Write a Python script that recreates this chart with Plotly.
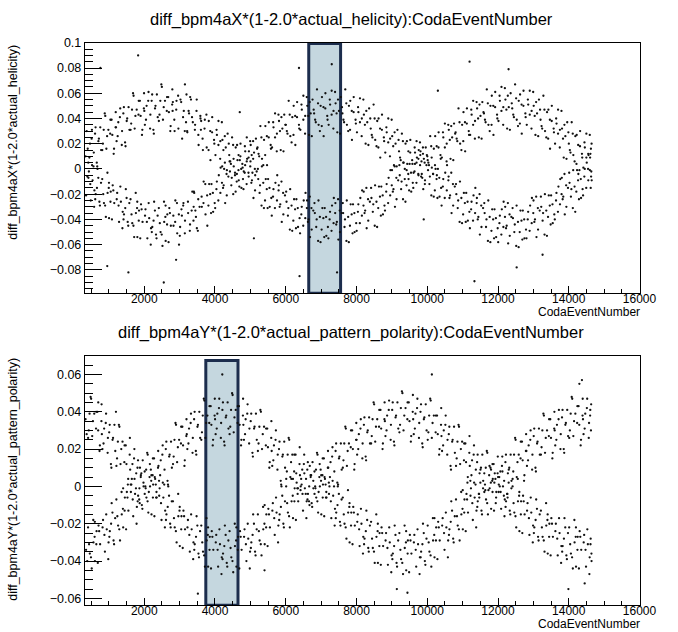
import plotly.graph_objects as go

# ---------------- data (CodaEventNumber, value) ----------------
top_upper = [
(418,0.005),(466,0.020),(521,0.031),(573,0.013),(609,0.028),(658,0.005),(704,0.022),(757,0.033),
(831,0.020),(883,0.044),(929,0.016),(986,0.031),(1044,0.039),(1097,0.027),(1146,0.016),(1194,0.045),
(1218,0.022),(1266,0.037),(1321,0.048),(1373,0.030),(1409,0.044),(1458,0.021),(1504,0.038),(1557,0.049),
(1631,0.036),(1683,0.060),(1729,0.032),(1786,0.047),(1844,0.054),(1897,0.042),(1946,0.031),(1994,0.060),
(2018,0.035),(2066,0.050),(2121,0.061),(2173,0.043),(2209,0.054),(2258,0.031),(2304,0.048),(2357,0.059),
(2431,0.043),(2483,0.067),(2529,0.039),(2586,0.054),(2644,0.057),(2697,0.045),(2746,0.034),(2794,0.063),
(2809,0.053),(2858,0.030),(2904,0.047),(2957,0.058),(3044,0.053),(3097,0.041),(3146,0.030),(3194,0.059),
(3218,0.029),(3266,0.044),(3321,0.055),(3373,0.037),(3431,0.031),(3483,0.055),(3529,0.027),(3586,0.042),
(3609,0.038),(3658,0.015),(3704,0.032),(3757,0.043),(3818,0.015),(3866,0.030),(3921,0.041),(3973,0.023),
(4044,0.031),(4097,0.019),(4146,0.008),(4194,0.037),(4209,0.023),(4258,0.000),(4304,0.017),(4357,0.028),
(4431,0.006),(4483,0.025),(4529,0.002),(4586,0.017),(4618,-0.004),(4666,0.011),(4721,0.020),(4773,0.004),
(4844,0.018),(4897,0.006),(4946,-0.003),(4994,0.022),(5009,0.019),(5058,-0.003),(5104,0.013),(5157,0.024),
(5231,0.012),(5283,0.034),(5329,0.008),(5386,0.023),(5418,0.011),(5466,0.026),(5521,0.037),(5573,0.019),
(5644,0.037),(5697,0.025),(5746,0.014),(5794,0.043),(5809,0.038),(5858,0.015),(5904,0.032),(5957,0.043),
(6031,0.030),(6083,0.054),(6129,0.026),(6186,0.041),(6218,0.027),(6266,0.042),(6321,0.053),(6373,0.035),
(6444,0.051),(6497,0.039),(6546,0.028),(6594,0.057),(6609,0.050),(6658,0.027),(6704,0.044),(6757,0.055),
(6831,0.039),(6883,0.063),(6929,0.035),(6986,0.050),(7018,0.034),(7066,0.049),(7121,0.060),(7173,0.042),
(7244,0.055),(7297,0.043),(7346,0.032),(7394,0.061),(7409,0.052),(7458,0.029),(7504,0.046),(7557,0.057),
(7631,0.039),(7683,0.063),(7729,0.035),(7786,0.050),(7818,0.031),(7866,0.046),(7921,0.057),(7973,0.039),
(8044,0.049),(8097,0.037),(8146,0.026),(8194,0.055),(8209,0.043),(8258,0.020),(8304,0.037),(8357,0.048),
(8431,0.027),(8483,0.051),(8529,0.023),(8586,0.038),(8618,0.017),(8666,0.032),(8721,0.043),(8773,0.025),
(8844,0.033),(8897,0.021),(8946,0.010),(8994,0.039),(9009,0.026),(9058,0.003),(9104,0.020),(9157,0.031),
(9231,0.009),(9283,0.028),(9329,0.005),(9386,0.020),(9418,-0.001),(9466,0.014),(9521,0.023),(9573,0.007),
(9644,0.017),(9697,0.005),(9746,-0.004),(9794,0.021),(9809,0.014),(9858,-0.007),(9904,0.008),(9957,0.017),
(10031,0.005),(10083,0.026),(10129,0.001),(10186,0.016),(10218,0.003),(10266,0.018),(10321,0.029),(10373,0.011),
(10444,0.029),(10497,0.017),(10546,0.006),(10594,0.035),(10609,0.031),(10658,0.008),(10704,0.025),(10757,0.036),
(10831,0.024),(10883,0.048),(10929,0.020),(10986,0.035),(11018,0.022),(11066,0.037),(11121,0.048),(11173,0.030),
(11244,0.047),(11297,0.035),(11346,0.024),(11394,0.053),(11409,0.048),(11458,0.025),(11504,0.042),(11557,0.053),
(11631,0.039),(11683,0.063),(11729,0.035),(11786,0.050),(11818,0.035),(11866,0.050),(11921,0.061),(11973,0.043),
(12044,0.058),(12097,0.046),(12146,0.035),(12194,0.064),(12209,0.055),(12258,0.032),(12304,0.049),(12357,0.060),
(12431,0.043),(12483,0.067),(12529,0.039),(12586,0.054),(12618,0.036),(12666,0.051),(12721,0.062),(12773,0.044),
(12844,0.055),(12897,0.043),(12946,0.032),(12994,0.061),(13009,0.050),(13058,0.027),(13104,0.044),(13157,0.055),
(13231,0.034),(13283,0.058),(13329,0.030),(13386,0.045),(13418,0.024),(13466,0.039),(13521,0.050),(13573,0.032),
(13644,0.040),(13697,0.028),(13746,0.017),(13794,0.046),(13809,0.032),(13858,0.009),(13904,0.026),(13957,0.037),
(14031,0.015),(14083,0.037),(14129,0.011),(14186,0.026),(14218,0.004),(14266,0.019),(14321,0.030),(14373,0.012),
(14444,0.021),(14497,0.009),(14546,0.000),(14594,0.027),(14612,0.012),(14645,0.020),
]
top_lower = [
(435,-0.002),(488,-0.025),(540,-0.009),(591,-0.017),(627,-0.020),(679,0.000),(732,-0.026),(778,-0.011),
(812,-0.008),(861,-0.027),(915,-0.038),(964,-0.019),(1005,-0.039),(1052,-0.018),(1108,-0.013),(1152,-0.027),
(1235,-0.019),(1288,-0.042),(1340,-0.026),(1391,-0.034),(1427,-0.036),(1479,-0.016),(1532,-0.042),(1578,-0.027),
(1612,-0.024),(1661,-0.043),(1715,-0.054),(1764,-0.035),(1805,-0.054),(1852,-0.033),(1908,-0.028),(1952,-0.042),
(2035,-0.032),(2088,-0.055),(2140,-0.039),(2191,-0.047),(2227,-0.046),(2279,-0.026),(2332,-0.052),(2378,-0.037),
(2412,-0.031),(2461,-0.050),(2515,-0.061),(2564,-0.042),(2605,-0.057),(2652,-0.036),(2708,-0.031),(2752,-0.045),
(2827,-0.045),(2879,-0.025),(2932,-0.051),(2978,-0.036),(3005,-0.053),(3052,-0.032),(3108,-0.027),(3152,-0.041),
(3235,-0.026),(3288,-0.049),(3340,-0.033),(3391,-0.041),(3412,-0.019),(3461,-0.038),(3515,-0.049),(3564,-0.030),
(3627,-0.030),(3679,-0.010),(3732,-0.036),(3778,-0.021),(3835,-0.012),(3888,-0.035),(3940,-0.019),(3991,-0.027),
(4005,-0.031),(4052,-0.010),(4108,-0.005),(4152,-0.019),(4227,-0.015),(4279,0.005),(4332,-0.021),(4378,-0.006),
(4412,0.006),(4461,-0.013),(4515,-0.020),(4564,-0.005),(4635,0.007),(4688,-0.014),(4740,0.000),(4791,-0.008),
(4805,-0.016),(4852,0.003),(4908,0.008),(4952,-0.006),(5027,-0.011),(5079,0.008),(5132,-0.017),(5178,-0.002),
(5212,0.000),(5261,-0.019),(5315,-0.029),(5364,-0.011),(5435,-0.008),(5488,-0.031),(5540,-0.015),(5591,-0.023),
(5605,-0.037),(5652,-0.016),(5708,-0.011),(5752,-0.025),(5827,-0.030),(5879,-0.010),(5932,-0.036),(5978,-0.021),
(6012,-0.018),(6061,-0.037),(6115,-0.048),(6164,-0.029),(6235,-0.024),(6288,-0.047),(6340,-0.031),(6391,-0.039),
(6405,-0.051),(6452,-0.030),(6508,-0.025),(6552,-0.039),(6627,-0.042),(6679,-0.022),(6732,-0.048),(6778,-0.033),
(6812,-0.027),(6861,-0.046),(6915,-0.057),(6964,-0.038),(7035,-0.031),(7088,-0.054),(7140,-0.038),(7191,-0.046),
(7205,-0.055),(7252,-0.034),(7308,-0.029),(7352,-0.043),(7427,-0.044),(7479,-0.024),(7532,-0.050),(7578,-0.035),
(7612,-0.027),(7661,-0.046),(7715,-0.057),(7764,-0.038),(7835,-0.028),(7888,-0.051),(7940,-0.035),(7991,-0.043),
(8005,-0.049),(8052,-0.028),(8108,-0.023),(8152,-0.037),(8227,-0.035),(8279,-0.015),(8332,-0.041),(8378,-0.026),
(8412,-0.015),(8461,-0.034),(8515,-0.045),(8564,-0.026),(8635,-0.014),(8688,-0.037),(8740,-0.021),(8791,-0.029),
(8805,-0.033),(8852,-0.012),(8908,-0.007),(8952,-0.021),(9027,-0.018),(9079,0.002),(9132,-0.024),(9178,-0.009),
(9212,0.003),(9261,-0.016),(9315,-0.024),(9364,-0.008),(9435,0.004),(9488,-0.017),(9540,-0.003),(9591,-0.011),
(9605,-0.015),(9652,0.004),(9708,0.009),(9752,-0.005),(9827,-0.006),(9879,0.012),(9932,-0.012),(9978,0.003),
(10012,0.007),(10061,-0.012),(10115,-0.021),(10164,-0.004),(10235,0.000),(10288,-0.023),(10340,-0.007),(10391,-0.015),
(10405,-0.029),(10452,-0.008),(10508,-0.003),(10552,-0.017),(10627,-0.023),(10679,-0.003),(10732,-0.029),(10778,-0.014),
(10812,-0.012),(10861,-0.031),(10915,-0.042),(10964,-0.023),(11035,-0.019),(11088,-0.042),(11140,-0.026),(11191,-0.034),
(11205,-0.047),(11252,-0.026),(11308,-0.021),(11352,-0.035),(11427,-0.040),(11479,-0.020),(11532,-0.046),(11578,-0.031),
(11612,-0.027),(11661,-0.046),(11715,-0.057),(11764,-0.038),(11835,-0.032),(11888,-0.055),(11940,-0.039),(11991,-0.047),
(12005,-0.058),(12052,-0.037),(12108,-0.032),(12152,-0.046),(12227,-0.047),(12279,-0.027),(12332,-0.053),(12378,-0.038),
(12412,-0.031),(12461,-0.050),(12515,-0.061),(12564,-0.042),(12635,-0.033),(12688,-0.056),(12740,-0.040),(12791,-0.048),
(12805,-0.055),(12852,-0.034),(12908,-0.029),(12952,-0.043),(13027,-0.042),(13079,-0.022),(13132,-0.048),(13178,-0.033),
(13212,-0.022),(13261,-0.041),(13315,-0.052),(13364,-0.033),(13435,-0.021),(13488,-0.044),(13540,-0.028),(13591,-0.036),
(13605,-0.040),(13652,-0.019),(13708,-0.014),(13752,-0.028),(13827,-0.024),(13879,-0.004),(13932,-0.030),(13978,-0.015),
(14012,-0.003),(14061,-0.022),(14115,-0.031),(14164,-0.014),(14235,-0.001),(14288,-0.024),(14340,-0.008),(14391,-0.016),
(14405,-0.021),(14452,0.000),(14508,0.005),(14552,-0.009),(14620,-0.015),(14631,-0.006),
]
# second set of points, "event:value-in-thousandths"
top_more = """
402:16 449:9 512:24 565:2 422:-7 474:-12 525:3 583:-30
624:33 671:2 718:24 781:15 614:-24 663:-15 701:-7 747:-29
813:15 854:31 898:42 950:26 840:-20 894:-29 959:-3 997:-15
1037:28 1077:39 1136:12 1189:33 1003:-11 1045:-26 1087:-40 1126:-17
1202:33 1249:26 1312:41 1365:19 1222:-24 1274:-29 1325:-14 1383:-47
1424:49 1471:18 1518:40 1581:31 1414:-40 1463:-31 1501:-23 1547:-45
1613:31 1654:47 1698:58 1750:42 1640:-36 1694:-45 1759:-19 1797:-31
1837:43 1877:54 1936:27 1989:48 1803:-26 1845:-41 1887:-55 1926:-32
2002:46 2049:39 2112:54 2165:32 2022:-37 2074:-42 2125:-27 2183:-60
2224:59 2271:28 2318:50 2381:41 2214:-50 2263:-41 2301:-33 2347:-55
2413:38 2454:54 2498:65 2550:49 2440:-43 2494:-52 2559:-26 2597:-38
2637:46 2677:57 2736:30 2789:51 2603:-29 2645:-44 2687:-58 2726:-35
2802:46 2849:39 2912:54 2965:32 2822:-37 2874:-42 2925:-27 2983:-60
3024:55 3071:24 3118:46 3181:37 3014:-46 3063:-37 3101:-29 3147:-51
3213:30 3254:46 3298:57 3350:41 3240:-35 3294:-44 3359:-18 3397:-30
3437:35 3477:46 3536:19 3589:40 3403:-18 3445:-33 3487:-47 3526:-24
3602:31 3649:24 3712:39 3765:17 3622:-22 3674:-27 3725:-12 3783:-45
3824:38 3871:7 3918:29 3981:20 3814:-29 3863:-20 3901:-12 3947:-34
4013:11 4054:27 4098:38 4150:22 4040:-16 4094:-25 4159:1 4197:-11
4237:15 4277:26 4336:-1 4389:20 4203:2 4245:-13 4287:-27 4326:-4
4402:11 4449:4 4512:19 4565:-3 4422:-2 4474:-7 4525:8 4583:-18
4624:19 4671:-9 4718:10 4781:1 4614:-10 4663:-1 4701:7 4747:-15
4813:-2 4854:14 4898:25 4950:9 4840:-3 4894:-12 4959:14 4997:2
5037:11 5077:22 5136:-5 5189:16 5003:6 5045:-9 5087:-23 5126:0
5202:17 5249:10 5312:25 5365:3 5222:-8 5274:-13 5325:2 5383:-31
5424:34 5471:3 5518:25 5581:16 5414:-25 5463:-16 5501:-8 5547:-30
5613:17 5654:33 5698:44 5750:28 5640:-22 5694:-31 5759:-5 5797:-17
5837:30 5877:41 5936:14 5989:35 5803:-13 5845:-28 5887:-42 5926:-19
6002:35 6049:28 6112:43 6165:21 6022:-26 6074:-31 6125:-16 6183:-49
6224:50 6271:19 6318:41 6381:32 6214:-41 6263:-32 6301:-24 6347:-46
6413:31 6454:47 6498:58 6550:42 6440:-36 6494:-45 6559:-19 6597:-31
6637:42 6677:53 6736:26 6789:47 6603:-25 6645:-40 6687:-54 6726:-31
6802:44 6849:37 6912:52 6965:30 6822:-35 6874:-40 6925:-25 6983:-58
7024:57 7071:26 7118:48 7181:39 7014:-48 7063:-39 7101:-31 7147:-53
7213:35 7254:51 7298:62 7350:46 7240:-40 7294:-49 7359:-23 7397:-35
7437:44 7477:55 7536:28 7589:49 7403:-27 7445:-42 7487:-56 7526:-33
7602:44 7649:37 7712:52 7765:30 7622:-35 7674:-40 7725:-25 7783:-58
7824:54 7871:23 7918:45 7981:36 7814:-45 7863:-36 7901:-28 7947:-50
8013:29 8054:45 8098:56 8150:40 8040:-34 8094:-43 8159:-17 8197:-29
8237:35 8277:46 8336:19 8389:40 8203:-18 8245:-33 8287:-47 8326:-24
8402:32 8449:25 8512:40 8565:18 8422:-23 8474:-28 8525:-13 8583:-46
8624:40 8671:9 8718:31 8781:22 8614:-31 8663:-22 8701:-14 8747:-36
8813:13 8854:29 8898:40 8950:24 8840:-18 8894:-27 8959:-1 8997:-13
9037:18 9077:29 9136:2 9189:23 9003:-1 9045:-16 9087:-30 9126:-7
9202:14 9249:7 9312:22 9365:0 9222:-5 9274:-10 9325:5 9383:-26
9424:22 9471:-8 9518:13 9581:4 9414:-13 9463:-4 9501:4 9547:-18
9613:-3 9654:13 9698:22 9750:8 9640:-2 9694:-11 9759:15 9797:3
9837:6 9877:17 9936:-9 9989:11 9803:11 9845:-4 9887:-16 9926:5
10002:10 10049:3 10112:18 10165:-4 10022:-1 10074:-6 10125:9 10183:-22
10224:26 10271:-5 10318:17 10381:8 10214:-17 10263:-8 10301:0 10347:-22
10413:9 10454:25 10498:36 10550:20 10440:-14 10494:-23 10559:3 10597:-9
10637:23 10677:34 10736:7 10789:28 10603:-6 10645:-21 10687:-35 10726:-12
10802:29 10849:22 10912:37 10965:15 10822:-20 10874:-25 10925:-10 10983:-43
11024:45 11071:14 11118:36 11181:27 11014:-36 11063:-27 11101:-19 11147:-41
11213:27 11254:43 11298:54 11350:38 11240:-32 11294:-41 11359:-15 11397:-27
11437:40 11477:51 11536:24 11589:45 11403:-23 11445:-38 11487:-52 11526:-29
11602:44 11649:37 11712:52 11765:30 11622:-35 11674:-40 11725:-25 11783:-58
11824:58 11871:27 11918:49 11981:40 11814:-49 11863:-40 11901:-32 11947:-54
12013:38 12054:54 12098:65 12150:49 12040:-43 12094:-52 12159:-26 12197:-38
12237:47 12277:58 12336:31 12389:52 12203:-30 12245:-45 12287:-59 12326:-36
12402:48 12449:41 12512:56 12565:34 12422:-39 12474:-44 12525:-29 12583:-62
12624:59 12671:28 12718:50 12781:41 12614:-50 12663:-41 12701:-33 12747:-55
12813:35 12854:51 12898:62 12950:46 12840:-40 12894:-49 12959:-23 12997:-35
13037:42 13077:53 13136:26 13189:47 13003:-25 13045:-40 13087:-54 13126:-31
13202:39 13249:32 13312:47 13365:25 13222:-30 13274:-35 13325:-20 13383:-53
13424:47 13471:16 13518:38 13581:29 13414:-38 13463:-29 13501:-21 13547:-43
13613:20 13654:36 13698:47 13750:31 13640:-25 13694:-34 13759:-8 13797:-20
13837:24 13877:35 13936:8 13989:29 13803:-7 13845:-22 13887:-36 13926:-13
14002:20 14049:13 14112:28 14165:6 14022:-11 14074:-16 14125:-1 14183:-34
14224:27 14271:-4 14318:18 14381:9 14214:-18 14263:-9 14301:-1 14347:-23
14413:1 14454:17 14498:28 14550:12 14440:-6 14494:-15 14559:11 14597:-1
14603:9 14637:-2 14626:16 14648:-9
"""
top_extra = [
(340,0.010),(356,-0.021),(372,0.030),(391,-0.006),(761,0.080),(1827,0.090),(954,-0.077),(1552,-0.082),
(2552,-0.090),(6374,0.080),(6390,-0.085),(11196,0.085),(12298,0.079),(11334,-0.089),(12527,-0.078),
(13260,-0.068),(3150,0.067),(2900,-0.072),(7300,0.083),(7450,-0.082),(4700,0.045),(9900,-0.040),
(5100,-0.055),(10300,0.062),
]

bottom_upper = [
(431,0.030),(483,0.048),(529,0.027),(586,0.039),(644,0.040),(697,0.030),(746,0.022),(794,0.044),
(818,0.020),(866,0.031),(921,0.039),(973,0.026),(1009,0.029),(1058,0.012),(1104,0.025),(1157,0.033),
(1231,0.015),(1283,0.033),(1329,0.012),(1386,0.024),(1444,0.022),(1497,0.012),(1546,0.004),(1594,0.026),
(1618,0.001),(1666,0.012),(1721,0.020),(1773,0.007),(1809,0.010),(1858,-0.007),(1904,0.006),(1957,0.014),
(2031,0.000),(2083,0.018),(2129,-0.003),(2186,0.009),(2244,0.015),(2297,0.005),(2346,-0.003),(2394,0.019),
(2418,0.003),(2466,0.014),(2521,0.022),(2573,0.009),(2609,0.020),(2658,0.003),(2704,0.016),(2757,0.024),
(2831,0.016),(2883,0.034),(2929,0.013),(2986,0.025),(3044,0.032),(3097,0.022),(3146,0.014),(3194,0.036),
(3218,0.020),(3266,0.031),(3321,0.039),(3373,0.026),(3409,0.036),(3458,0.019),(3504,0.032),(3557,0.040),
(3631,0.029),(3683,0.047),(3729,0.026),(3786,0.038),(3844,0.043),(3897,0.033),(3946,0.025),(3994,0.047),
(4018,0.028),(4066,0.039),(4121,0.047),(4173,0.034),(4209,0.041),(4258,0.024),(4304,0.037),(4357,0.045),
(4431,0.032),(4483,0.050),(4529,0.029),(4586,0.041),(4644,0.043),(4697,0.033),(4746,0.025),(4794,0.047),
(4818,0.025),(4866,0.036),(4921,0.044),(4973,0.031),(5009,0.035),(5058,0.018),(5104,0.031),(5157,0.039),
(5231,0.023),(5283,0.041),(5329,0.020),(5386,0.032),(5444,0.031),(5497,0.021),(5546,0.013),(5594,0.035),
(5618,0.011),(5666,0.022),(5721,0.030),(5773,0.017),(5809,0.020),(5858,0.003),(5904,0.016),(5957,0.024),
(6031,0.008),(6083,0.026),(6129,0.005),(6186,0.017),(6244,0.017),(6297,0.007),(6346,-0.001),(6394,0.021),
(6418,-0.002),(6466,0.009),(6521,0.017),(6573,0.004),(6609,0.009),(6658,-0.008),(6704,0.005),(6757,0.013),
(6831,0.000),(6883,0.018),(6929,-0.003),(6986,0.009),(7044,0.015),(7097,0.005),(7146,-0.003),(7194,0.019),
(7218,0.002),(7266,0.013),(7321,0.021),(7373,0.008),(7409,0.019),(7458,0.002),(7504,0.015),(7557,0.023),
(7631,0.014),(7683,0.032),(7729,0.011),(7786,0.023),(7844,0.030),(7897,0.020),(7946,0.012),(7994,0.034),
(8018,0.017),(8066,0.028),(8121,0.036),(8173,0.023),(8209,0.033),(8258,0.016),(8304,0.029),(8357,0.037),
(8431,0.027),(8483,0.045),(8529,0.024),(8586,0.036),(8644,0.041),(8697,0.031),(8746,0.023),(8794,0.045),
(8818,0.027),(8866,0.038),(8921,0.046),(8973,0.033),(9009,0.041),(9058,0.024),(9104,0.037),(9157,0.045),
(9231,0.033),(9283,0.051),(9329,0.030),(9386,0.042),(9444,0.045),(9497,0.035),(9546,0.027),(9594,0.049),
(9618,0.028),(9666,0.039),(9721,0.047),(9773,0.034),(9809,0.040),(9858,0.023),(9904,0.036),(9957,0.044),
(10031,0.029),(10083,0.047),(10129,0.026),(10186,0.038),(10244,0.038),(10297,0.028),(10346,0.020),(10394,0.042),
(10418,0.019),(10466,0.030),(10521,0.038),(10573,0.025),(10609,0.028),(10658,0.011),(10704,0.024),(10757,0.032),
(10831,0.015),(10883,0.033),(10929,0.012),(10986,0.024),(11044,0.023),(11097,0.013),(11146,0.005),(11194,0.027),
(11218,0.003),(11266,0.014),(11321,0.022),(11373,0.009),(11409,0.013),(11458,-0.004),(11504,0.009),(11557,0.017),
(11631,0.001),(11683,0.019),(11729,-0.002),(11786,0.010),(11844,0.012),(11897,0.002),(11946,-0.006),(11994,0.016),
(12018,-0.003),(12066,0.008),(12121,0.016),(12173,0.003),(12209,0.013),(12258,-0.004),(12304,0.009),(12357,0.017),
(12431,0.008),(12483,0.026),(12529,0.005),(12586,0.017),(12644,0.024),(12697,0.014),(12746,0.006),(12794,0.028),
(12818,0.011),(12866,0.022),(12921,0.030),(12973,0.017),(13009,0.027),(13058,0.010),(13104,0.023),(13157,0.031),
(13231,0.021),(13283,0.039),(13329,0.018),(13386,0.030),(13444,0.036),(13497,0.026),(13546,0.018),(13594,0.040),
(13618,0.022),(13666,0.033),(13721,0.041),(13773,0.028),(13809,0.037),(13858,0.020),(13904,0.033),(13957,0.041),
(14031,0.030),(14083,0.048),(14129,0.027),(14186,0.039),(14244,0.043),(14297,0.033),(14346,0.025),(14394,0.047),
(14418,0.028),(14466,0.039),(14521,0.047),(14573,0.034),(14608,0.041),(14627,0.030),
]
bottom_lower = [
(412,-0.022),(461,-0.036),(515,-0.044),(564,-0.030),(605,-0.040),(652,-0.024),(708,-0.021),(752,-0.031),
(835,-0.018),(888,-0.035),(940,-0.023),(991,-0.030),(1027,-0.024),(1079,-0.009),(1132,-0.029),(1178,-0.017),
(1212,-0.007),(1261,-0.021),(1315,-0.029),(1364,-0.015),(1405,-0.022),(1452,-0.006),(1508,-0.003),(1552,-0.013),
(1635,0.001),(1688,-0.016),(1740,-0.004),(1791,-0.011),(1827,-0.005),(1879,0.010),(1932,-0.010),(1978,0.002),
(2012,0.008),(2061,-0.006),(2115,-0.014),(2164,0.000),(2205,-0.015),(2252,0.001),(2308,0.004),(2352,-0.006),
(2435,-0.001),(2488,-0.018),(2540,-0.006),(2591,-0.013),(2627,-0.015),(2679,0.000),(2732,-0.020),(2778,-0.008),
(2812,-0.008),(2861,-0.022),(2915,-0.030),(2964,-0.016),(3005,-0.032),(3052,-0.016),(3108,-0.013),(3152,-0.023),
(3235,-0.018),(3288,-0.035),(3340,-0.023),(3391,-0.030),(3427,-0.031),(3479,-0.016),(3532,-0.036),(3578,-0.024),
(3612,-0.021),(3661,-0.035),(3715,-0.043),(3764,-0.029),(3805,-0.043),(3852,-0.027),(3908,-0.024),(3952,-0.034),
(4035,-0.026),(4088,-0.043),(4140,-0.031),(4191,-0.038),(4227,-0.036),(4279,-0.021),(4332,-0.041),(4378,-0.029),
(4412,-0.024),(4461,-0.038),(4515,-0.046),(4564,-0.032),(4605,-0.043),(4652,-0.027),(4708,-0.024),(4752,-0.034),
(4835,-0.023),(4888,-0.040),(4940,-0.028),(4991,-0.035),(5027,-0.030),(5079,-0.015),(5132,-0.035),(5178,-0.023),
(5212,-0.015),(5261,-0.029),(5315,-0.037),(5364,-0.023),(5405,-0.031),(5452,-0.015),(5508,-0.012),(5552,-0.022),
(5635,-0.009),(5688,-0.026),(5740,-0.014),(5791,-0.021),(5827,-0.015),(5879,0.000),(5932,-0.020),(5978,-0.008),
(6012,0.000),(6061,-0.014),(6115,-0.022),(6164,-0.008),(6205,-0.017),(6252,-0.001),(6308,0.002),(6352,-0.008),
(6435,0.004),(6488,-0.013),(6540,-0.001),(6591,-0.008),(6627,-0.004),(6679,0.011),(6732,-0.009),(6778,0.003),
(6812,0.008),(6861,-0.006),(6915,-0.014),(6964,0.000),(7005,-0.015),(7052,0.001),(7108,0.004),(7152,-0.006),
(7235,0.000),(7288,-0.017),(7340,-0.005),(7391,-0.012),(7427,-0.014),(7479,0.001),(7532,-0.019),(7578,-0.007),
(7612,-0.006),(7661,-0.020),(7715,-0.028),(7764,-0.014),(7805,-0.030),(7852,-0.014),(7908,-0.011),(7952,-0.021),
(8035,-0.015),(8088,-0.032),(8140,-0.020),(8191,-0.027),(8227,-0.028),(8279,-0.013),(8332,-0.033),(8378,-0.021),
(8412,-0.019),(8461,-0.033),(8515,-0.041),(8564,-0.027),(8605,-0.041),(8652,-0.025),(8708,-0.022),(8752,-0.032),
(8835,-0.025),(8888,-0.042),(8940,-0.030),(8991,-0.037),(9027,-0.036),(9079,-0.021),(9132,-0.041),(9178,-0.029),
(9212,-0.025),(9261,-0.039),(9315,-0.047),(9364,-0.033),(9405,-0.045),(9452,-0.029),(9508,-0.026),(9552,-0.036),
(9635,-0.026),(9688,-0.043),(9740,-0.031),(9791,-0.038),(9827,-0.035),(9879,-0.020),(9932,-0.040),(9978,-0.028),
(10012,-0.021),(10061,-0.035),(10115,-0.043),(10164,-0.029),(10205,-0.038),(10252,-0.022),(10308,-0.019),(10352,-0.029),
(10435,-0.017),(10488,-0.034),(10540,-0.022),(10591,-0.029),(10627,-0.023),(10679,-0.008),(10732,-0.028),(10778,-0.016),
(10812,-0.007),(10861,-0.021),(10915,-0.029),(10964,-0.015),(11005,-0.023),(11052,-0.007),(11108,-0.004),(11152,-0.014),
(11235,-0.001),(11288,-0.018),(11340,-0.006),(11391,-0.013),(11427,-0.008),(11479,0.007),(11532,-0.013),(11578,-0.001),
(11612,0.007),(11661,-0.007),(11715,-0.015),(11764,-0.001),(11805,-0.012),(11852,0.004),(11908,0.007),(11952,-0.003),
(12035,0.005),(12088,-0.012),(12140,0.000),(12191,-0.007),(12227,-0.008),(12279,0.007),(12332,-0.013),(12378,-0.001),
(12412,0.000),(12461,-0.014),(12515,-0.022),(12564,-0.008),(12605,-0.024),(12652,-0.008),(12708,-0.005),(12752,-0.015),
(12835,-0.009),(12888,-0.026),(12940,-0.014),(12991,-0.021),(13027,-0.022),(13079,-0.007),(13132,-0.027),(13178,-0.015),
(13212,-0.013),(13261,-0.027),(13315,-0.035),(13364,-0.021),(13405,-0.036),(13452,-0.020),(13508,-0.017),(13552,-0.027),
(13635,-0.020),(13688,-0.037),(13740,-0.025),(13791,-0.032),(13827,-0.032),(13879,-0.017),(13932,-0.037),(13978,-0.025),
(14012,-0.022),(14061,-0.036),(14115,-0.044),(14164,-0.030),(14205,-0.043),(14252,-0.027),(14308,-0.024),(14352,-0.034),
(14435,-0.026),(14488,-0.043),(14540,-0.031),(14591,-0.038),(14641,-0.036),(14619,-0.028),
]
bottom_more = """
413:26 454:39 498:47 550:35 440:-31 494:-38 559:-18 597:-27
637:31 677:40 736:19 789:35 603:-19 645:-31 687:-41 726:-24
802:28 849:23 912:34 965:18 822:-22 874:-26 925:-15 983:-39
1024:33 1071:10 1118:26 1181:19 1014:-27 1063:-20 1101:-14 1147:-31
1213:11 1254:24 1298:32 1350:20 1240:-16 1294:-23 1359:-3 1397:-12
1437:13 1477:22 1536:1 1589:17 1403:-1 1445:-13 1487:-23 1526:-6
1602:9 1649:4 1712:15 1765:-1 1622:-3 1674:-7 1725:4 1783:-20
1824:14 1871:-9 1918:7 1981:0 1814:-8 1863:-1 1901:5 1947:-12
2013:-4 2054:9 2098:17 2150:5 2040:-1 2094:-8 2159:12 2197:3
2237:6 2277:15 2336:-6 2389:10 2203:6 2245:-6 2287:-16 2326:1
2402:11 2449:6 2512:17 2565:1 2422:-5 2474:-9 2525:2 2583:-22
2624:24 2671:1 2718:17 2781:10 2614:-18 2663:-11 2701:-5 2747:-22
2813:12 2854:25 2898:33 2950:21 2840:-17 2894:-24 2959:-4 2997:-13
3037:23 3077:32 3136:11 3189:27 3003:-11 3045:-23 3087:-33 3126:-16
3202:28 3249:23 3312:34 3365:18 3222:-22 3274:-26 3325:-15 3383:-39
3424:40 3471:17 3518:33 3581:26 3414:-34 3463:-27 3501:-21 3547:-38
3613:25 3654:38 3698:46 3750:34 3640:-30 3694:-37 3759:-17 3797:-26
3837:34 3877:43 3936:22 3989:38 3803:-22 3845:-34 3887:-44 3926:-27
4002:36 4049:31 4112:42 4165:26 4022:-30 4074:-34 4125:-23 4183:-47
4224:45 4271:22 4318:38 4381:31 4214:-39 4263:-32 4301:-26 4347:-43
4413:28 4454:41 4498:49 4550:37 4440:-33 4494:-40 4559:-20 4597:-29
4637:34 4677:43 4736:22 4789:38 4603:-22 4645:-34 4687:-44 4726:-27
4802:33 4849:28 4912:39 4965:23 4822:-27 4874:-31 4925:-20 4983:-44
5024:39 5071:16 5118:32 5181:25 5014:-33 5063:-26 5101:-20 5147:-37
5213:19 5254:32 5298:40 5350:28 5240:-24 5294:-31 5359:-11 5397:-20
5437:22 5477:31 5536:10 5589:26 5403:-10 5445:-22 5487:-32 5526:-15
5602:19 5649:14 5712:25 5765:9 5622:-13 5674:-17 5725:-6 5783:-30
5824:24 5871:1 5918:17 5981:10 5814:-18 5863:-11 5901:-5 5947:-22
6013:4 6054:17 6098:25 6150:13 6040:-9 6094:-16 6159:4 6197:-5
6237:8 6277:17 6336:-4 6389:12 6203:4 6245:-8 6287:-18 6326:-1
6402:6 6449:1 6512:12 6565:-4 6422:0 6474:-4 6525:7 6583:-17
6624:13 6671:-10 6718:6 6781:-1 6614:-7 6663:0 6701:6 6747:-11
6813:-4 6854:9 6898:17 6950:5 6840:-1 6894:-8 6959:12 6997:3
7037:6 7077:15 7136:-6 7189:10 7003:6 7045:-6 7087:-16 7126:1
7202:10 7249:5 7312:16 7365:0 7222:-4 7274:-8 7325:3 7383:-21
7424:23 7471:0 7518:16 7581:9 7414:-17 7463:-10 7501:-4 7547:-21
7613:10 7654:23 7698:31 7750:19 7640:-15 7694:-22 7759:-2 7797:-11
7837:21 7877:30 7936:9 7989:25 7803:-9 7845:-21 7887:-31 7926:-14
8002:25 8049:20 8112:31 8165:15 8022:-19 8074:-23 8125:-12 8183:-36
8224:37 8271:14 8318:30 8381:23 8214:-31 8263:-24 8301:-18 8347:-35
8413:23 8454:36 8498:44 8550:32 8440:-28 8494:-35 8559:-15 8597:-24
8637:32 8677:41 8736:20 8789:36 8603:-20 8645:-32 8687:-42 8726:-25
8802:35 8849:30 8912:41 8965:25 8822:-29 8874:-33 8925:-22 8983:-46
9024:45 9071:22 9118:38 9181:31 9014:-39 9063:-32 9101:-26 9147:-43
9213:29 9254:42 9298:50 9350:38 9240:-34 9294:-41 9359:-21 9397:-30
9437:36 9477:45 9536:24 9589:40 9403:-24 9445:-36 9487:-46 9526:-29
9602:36 9649:31 9712:42 9765:26 9622:-30 9674:-34 9725:-23 9783:-47
9824:44 9871:21 9918:37 9981:30 9814:-38 9863:-31 9901:-25 9947:-42
10013:25 10054:38 10098:46 10150:34 10040:-30 10094:-37 10159:-17 10197:-26
10237:29 10277:38 10336:17 10389:33 10203:-17 10245:-29 10287:-39 10326:-22
10402:27 10449:22 10512:33 10565:17 10422:-21 10474:-25 10525:-14 10583:-38
10624:32 10671:9 10718:25 10781:18 10614:-26 10663:-19 10701:-13 10747:-30
10813:11 10854:24 10898:32 10950:20 10840:-16 10894:-23 10959:-3 10997:-12
11037:14 11077:23 11136:2 11189:18 11003:-2 11045:-14 11087:-24 11126:-7
11202:11 11249:6 11312:17 11365:1 11222:-5 11274:-9 11325:2 11383:-22
11424:17 11471:-6 11518:10 11581:3 11414:-11 11463:-4 11501:2 11547:-15
11613:-3 11654:10 11698:18 11750:6 11640:-2 11694:-9 11759:11 11797:2
11837:3 11877:12 11936:-9 11989:7 11803:9 11845:-3 11887:-13 11926:4
12002:5 12049:0 12112:11 12165:-5 12022:1 12074:-3 12125:8 12183:-16
12224:17 12271:-6 12318:10 12381:3 12214:-11 12263:-4 12301:2 12347:-15
12413:4 12454:17 12498:25 12550:13 12440:-9 12494:-16 12559:4 12597:-5
12637:15 12677:24 12736:3 12789:19 12603:-3 12645:-15 12687:-25 12726:-8
12802:19 12849:14 12912:25 12965:9 12822:-13 12874:-17 12925:-6 12983:-30
13024:31 13071:8 13118:24 13181:17 13014:-25 13063:-18 13101:-12 13147:-29
13213:17 13254:30 13298:38 13350:26 13240:-22 13294:-29 13359:-9 13397:-18
13437:27 13477:36 13536:15 13589:31 13403:-15 13445:-27 13487:-37 13526:-20
13602:30 13649:25 13712:36 13765:20 13622:-24 13674:-28 13725:-17 13783:-41
13824:41 13871:18 13918:34 13981:27 13814:-35 13863:-28 13901:-22 13947:-39
14013:26 14054:39 14098:47 14150:35 14040:-31 14094:-38 14159:-18 14197:-27
14237:34 14277:43 14336:22 14389:38 14203:-22 14245:-34 14287:-44 14326:-27
14402:36 14449:31 14512:42 14565:26 14422:-30 14474:-34 14525:-23 14583:-47
14604:38 14633:44 14615:-31 14644:-40
"""
bottom_extra = [
(340,0.036),(355,-0.034),(372,0.028),(388,-0.040),(4206,0.060),(3516,-0.0575),(10130,0.060),(14373,0.057),
(13990,-0.055),(9140,-0.055),(9440,-0.057),(14300,0.055),(1200,0.040),(5400,-0.045),(700,0.045),(14450,-0.052),
]

# shaded event windows (CodaEventNumber ranges)
top_window = (6650, 7550)
bottom_window = (3740, 4650)

top_title = "diff_bpm4aX*(1-2.0*actual_helicity):CodaEventNumber"
bottom_title = "diff_bpm4aY*(1-2.0*actual_pattern_polarity):CodaEventNumber"
top_ytitle = "diff_bpm4aX*(1-2.0*actual_helicity)"
bottom_ytitle = "diff_bpm4aY*(1-2.0*actual_pattern_polarity)"
xtitle = "CodaEventNumber"

x_ticks = [2000, 4000, 6000, 8000, 10000, 12000, 14000, 16000]
top_yticks = [-0.08, -0.06, -0.04, -0.02, 0, 0.02, 0.04, 0.06, 0.08, 0.1]
bottom_yticks = [-0.06, -0.04, -0.02, 0, 0.02, 0.04, 0.06]


def parse_milli(text):
    out = []
    for tok in text.split():
        a, b = tok.split(":")
        out.append((int(a), int(b) / 1000.0))
    return out


# ---------------- figure ----------------
W, H = 678, 632
FONT = "Liberation Sans, Arial, Helvetica, sans-serif"

top_pts = top_upper + top_lower + parse_milli(top_more) + top_extra
bot_pts = bottom_upper + bottom_lower + parse_milli(bottom_more) + bottom_extra

fig = go.Figure()
mk = dict(size=2.3, color="#111111")
fig.add_trace(go.Scatter(x=[p[0] for p in top_pts], y=[p[1] for p in top_pts], mode="markers",
                         marker=mk, xaxis="x", yaxis="y", hoverinfo="skip", showlegend=False))
fig.add_trace(go.Scatter(x=[p[0] for p in bot_pts], y=[p[1] for p in bot_pts], mode="markers",
                         marker=mk, xaxis="x2", yaxis="y2", hoverinfo="skip", showlegend=False))

xr = [320, 16001]
top_yr = [-0.0985, 0.1001]
bot_yr = [-0.0637, 0.0701]

xdom = [87 / W, 656 / W]
top_ydom = [1 - 290 / H, 1 - 37 / H]
bot_ydom = [1 - 605 / H, 1 - 353 / H]

TICKFONT = dict(family=FONT, size=12, color="black")


def xaxis_cfg(anchor):
    return dict(domain=xdom, range=xr, anchor=anchor, tickvals=x_ticks,
                ticktext=[str(v) for v in x_ticks],
                ticks="inside", ticklen=7.6, tickwidth=1, tickcolor="black",
                ticklabelstandoff=-6,
                minor=dict(tickvals=list(range(500, 16001, 500)), ticks="inside", ticklen=3.8,
                           tickcolor="black", tickwidth=1),
                showline=True, linecolor="black", linewidth=1, mirror=True,
                showgrid=False, zeroline=False, tickfont=TICKFONT)


def yaxis_cfg(anchor, dom, rng, tv, minor_vals):
    return dict(domain=dom, range=rng, anchor=anchor, tickvals=tv,
                ticks="inside", ticklen=17, tickwidth=1, tickcolor="black",
                minor=dict(tickvals=minor_vals, ticks="inside", ticklen=8.5, tickcolor="black", tickwidth=1),
                showline=True, linecolor="black", linewidth=1, mirror=True,
                showgrid=False, zeroline=False,
                tickfont=dict(family=FONT, size=12.5, color="black"))


top_minor = [round(-0.095 + 0.005 * i, 3) for i in range(40)]
bot_minor = [round(-0.060 + 0.005 * i, 3) for i in range(27)]

fig.update_layout(
    width=W, height=H, margin=dict(l=0, r=0, t=0, b=0),
    paper_bgcolor="white", plot_bgcolor="white",
    xaxis=xaxis_cfg("y"),
    yaxis=yaxis_cfg("x", top_ydom, top_yr, top_yticks, top_minor),
    xaxis2=xaxis_cfg("y2"),
    yaxis2=yaxis_cfg("x2", bot_ydom, bot_yr, bottom_yticks, bot_minor),
    showlegend=False,
)

shape_style = dict(type="rect", line=dict(color="#1c2d4d", width=3), fillcolor="#c5d7df", layer="below")
fig.add_shape(xref="x", yref="y", x0=top_window[0], x1=top_window[1], y0=-0.0985, y1=0.0995, **shape_style)
fig.add_shape(xref="x2", yref="y2", x0=bottom_window[0], x1=bottom_window[1], y0=-0.0637, y1=0.0675, **shape_style)


def ann(text, x, y, xanchor="center", yanchor="middle", size=12.5, angle=0, pad=1):
    fig.add_annotation(text=text, x=x, y=y, xref="paper", yref="paper", xanchor=xanchor, yanchor=yanchor,
                       showarrow=False, textangle=angle, borderpad=pad,
                       font=dict(family=FONT, size=size, color="black"))


ann(top_title, 361 / W, 1 - 14 / H, size=16.5)
ann(bottom_title, 360 / W, 1 - 330 / H, size=16.5)
ann(xtitle, 657 / W, 1 - 309 / H, xanchor="right", pad=0, size=12)
ann(xtitle, 657 / W, 0, xanchor="right", yanchor="bottom", pad=0, size=12)
ann(top_ytitle, 13 / W, 1 - 37 / H, yanchor="top", angle=-90)
ann(bottom_ytitle, 13 / W, 1 - 353 / H, yanchor="top", angle=-90)

fig.write_html("out.html")
